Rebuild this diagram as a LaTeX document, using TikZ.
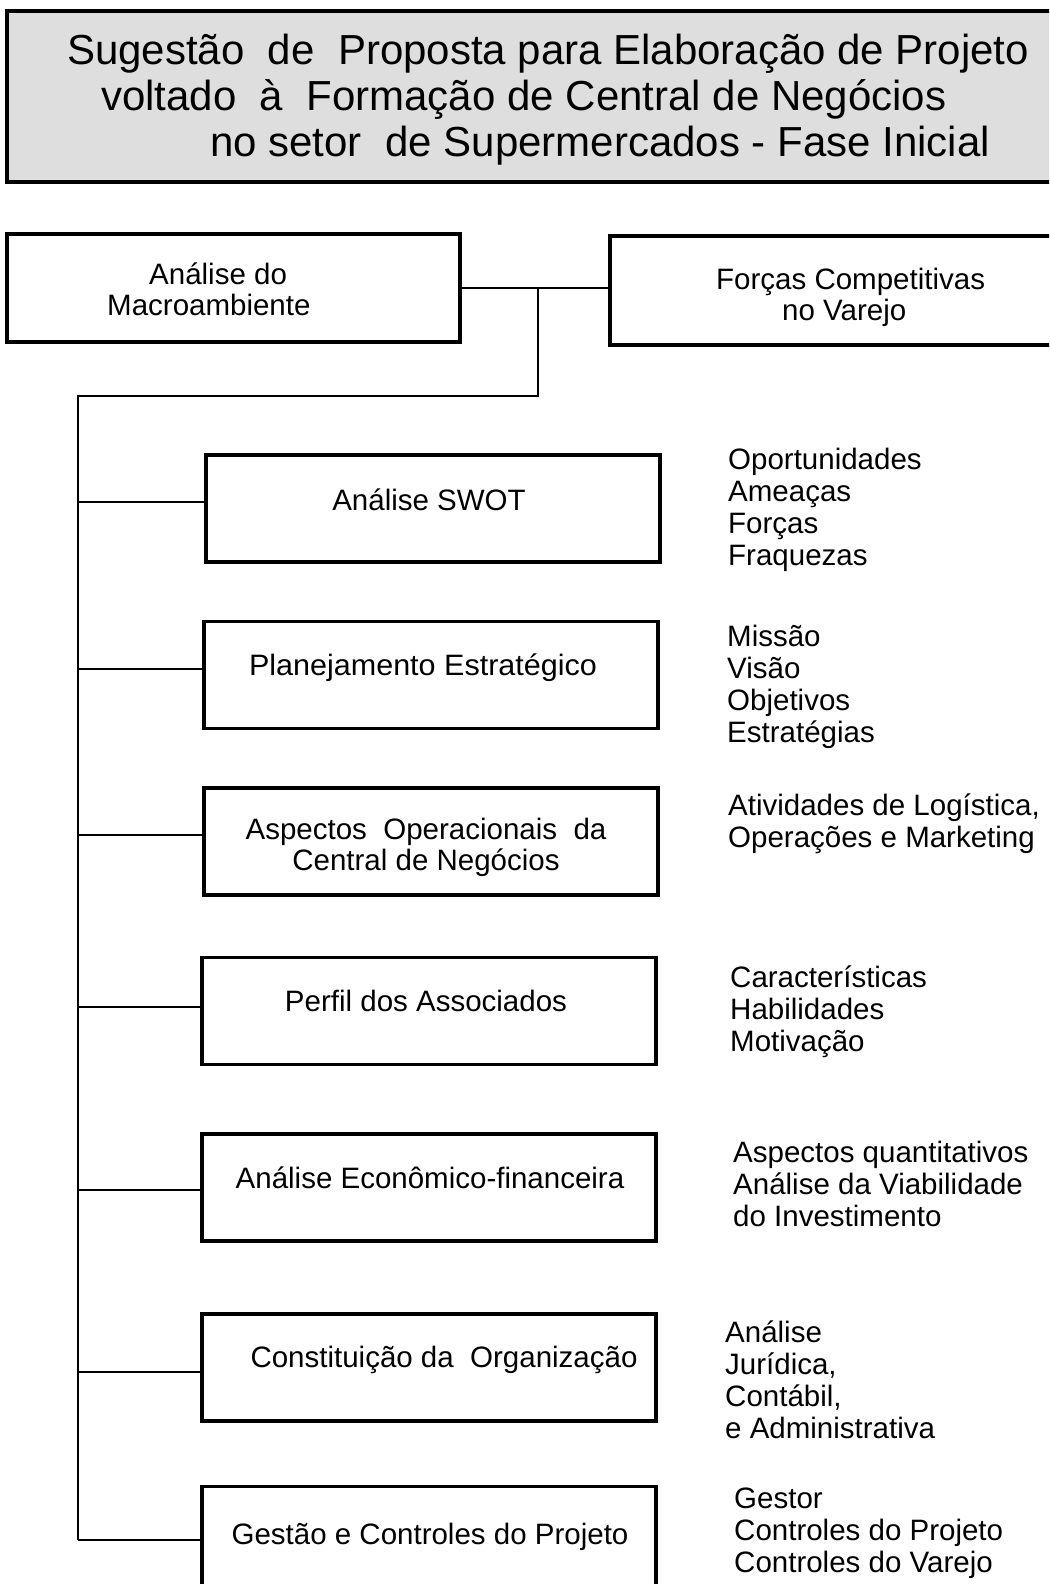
\documentclass[tikz,border=0pt]{standalone}
\usepackage{fontspec}
\setmainfont{Liberation Sans}
\definecolor{titlegray}{RGB}{222,222,222}
\begin{document}
\begin{tikzpicture}[x=1pt,y=-1pt,
  frame/.style={draw=black, line width=3.2pt, inner sep=0pt},
  stepbox/.style={frame, minimum width=454pt, minimum height=107pt},
  link/.style={draw=black, line width=1.6pt},
  titletext/.style={inner sep=0pt, anchor=base west, font=\fontsize{42}{46}\selectfont},
  boxtext/.style={inner sep=0pt, anchor=base, font=\fontsize{29.5}{31.5}\selectfont},
  listtext/.style={inner sep=0pt, anchor=base west, font=\fontsize{29.5}{32}\selectfont}]
\useasboundingbox (0,0) rectangle (1049,1584);
\clip (0,0) rectangle (1049,1584);

% heading
\node[frame, line width=4.5pt, fill=titlegray, minimum width=1053pt, minimum height=171pt] (title) at (533.5,96.5) {};
\node[titletext] (t1) at (67,65) {Sugestão\ \ de\ \ Proposta para Elaboração de Projeto};
\node[titletext] (t2) at (101,111) {voltado\ \ à\ \ Formação de Central de Negócios};
\node[titletext] (t3) at (210,157) {no setor\ \ de Supermercados - Fase Inicial};

% top pair
\node[stepbox, minimum width=453pt, minimum height=108pt] (macro) at (233.5,288) {};
\node[listtext, font=\fontsize{29.5}{31.5}\selectfont] (macro-t) at (107,284) {\begin{tabular}[t]{@{}l@{}}\hspace*{42pt}Análise do\\Macroambiente\end{tabular}};
\node[stepbox, minimum width=450pt, minimum height=109pt] (forcas) at (835,290.5) {};
\node[listtext, font=\fontsize{29.5}{31.5}\selectfont] (forcas-t) at (716,289) {\begin{tabular}[t]{@{}l@{}}Forças Competitivas\\\hspace*{66pt}no Varejo\end{tabular}};

% steps
\node[stepbox] (swot)   at (433,508.5) {};
\node[stepbox] (plan)   at (431,675) {};
\node[stepbox] (oper)   at (431,841.5) {};
\node[stepbox] (perfil) at (429,1011) {};
\node[stepbox] (econ)   at (429,1187.5) {};
\node[stepbox] (const)  at (429,1367.5) {};
\node[stepbox] (gest)   at (429,1540) {};

\node[boxtext] (swot-t)   at (429,510) {Análise SWOT};
\node[boxtext] (plan-t)   at (423,675) {\scalebox{1.035}[1]{Planejamento Estratégico}};
\node[boxtext] (oper-t)   at (426,839) {\begin{tabular}[t]{@{}c@{}}Aspectos\ \ Operacionais\ \ da\\Central de Negócios\end{tabular}};
\node[boxtext] (perfil-t) at (426,1011) {Perfil dos Associados};
\node[boxtext] (econ-t)   at (430,1188) {Análise Econômico-financeira};
\node[boxtext] (const-t)  at (444,1367) {Constituição da\ \ Organização};
\node[boxtext] (gest-t)   at (430,1544) {Gestão e Controles do Projeto};

% side notes
\node[listtext] (swot-l) at (728,469) {\begin{tabular}[t]{@{}l@{}}Oportunidades\\Ameaças\\Forças\\Fraquezas\end{tabular}};
\node[listtext] (plan-l) at (727,646) {\begin{tabular}[t]{@{}l@{}}Missão\\Visão\\Objetivos\\Estratégias\end{tabular}};
\node[listtext] (oper-l) at (728,815) {\begin{tabular}[t]{@{}l@{}}Atividades de Logística,\\Operações e Marketing\end{tabular}};
\node[listtext] (perfil-l) at (730,987) {\begin{tabular}[t]{@{}l@{}}Características\\Habilidades\\Motivação\end{tabular}};
\node[listtext] (econ-l) at (733,1162) {\begin{tabular}[t]{@{}l@{}}Aspectos quantitativos\\Análise da Viabilidade\\do Investimento\end{tabular}};
\node[listtext] (const-l) at (725,1342) {\begin{tabular}[t]{@{}l@{}}Análise\\Jurídica,\\Contábil,\\e Administrativa\end{tabular}};
\node[listtext] (gest-l) at (734,1508) {\begin{tabular}[t]{@{}l@{}}Gestor\\Controles do Projeto\\Controles do Varejo\end{tabular}};

% connectors
\coordinate (j1) at (538,288);
\coordinate (split) at (538,396);
\coordinate (trunktop) at (78,396);
\coordinate (trunkend) at (78,1540);
\draw[link] (macro.east) -- (macro.east -| forcas.west);
\draw[link] (j1) -- (split) -- (trunktop) -- (trunkend);
\foreach \b/\y in {swot/502,plan/669,oper/835,perfil/1007,econ/1190,const/1372,gest/1540}{
  \coordinate (\b-br) at (78,\y);
  \draw[link] (\b-br) -- (\b-br -| \b.west);
}
\end{tikzpicture}
\end{document}
